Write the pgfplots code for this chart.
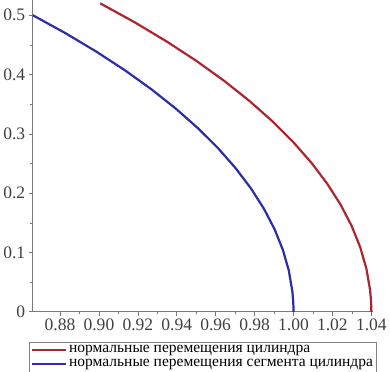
\documentclass[border=0pt]{standalone}
\usepackage{pgfplots}
\pgfplotsset{compat=1.18}
\usepackage{fontspec}
\setmainfont{Liberation Serif}
\definecolor{cred}{RGB}{172,38,48}
\definecolor{cblue}{RGB}{45,45,170}
\definecolor{axgray}{RGB}{120,120,120}
\begin{document}
\begin{tikzpicture}
\begin{axis}[
  scale only axis,
  width=339bp, height=310bp,
  xmin=0.866, xmax=1.041,
  ymin=0, ymax=0.525,
  axis x line=bottom, axis y line=left,
  axis line style={-, axgray, line width=0.8pt},
  tick align=outside,
  tick style={axgray, line width=0.6pt},
  major tick length=4bp, minor tick length=2.5bp,
  xtick={0.88,0.90,...,1.04},
  ytick={0,0.1,0.2,0.3,0.4,0.5},
  minor x tick num=1, minor y tick num=1,
  /pgf/number format/assume math mode=true,
  xticklabel style={/pgf/number format/.cd, fixed, fixed zerofill, precision=2},
  yticklabel style={/pgf/number format/.cd, fixed, precision=1},
  ticklabel style={font=\rmfamily\fontsize{17.5}{19}\selectfont, text=black!75},
  legend style={at={(0,0)}, anchor=north west, xshift=-4bp, yshift=-30bp,
    draw=black!50, font=\rmfamily\fontsize{15.5}{16}\selectfont, inner sep=1.5pt,
    row sep=1bp, cells={anchor=west}},
  legend cell align=left,
  legend image code/.code={\draw[#1, line width=2.5pt] (0bp,0bp) -- (34bp,0bp);},
  clip=false,
]
\addplot[cred, line width=2.2pt] coordinates {
(1.04000,0) (1.03996,0.00908) (1.03984,0.01815) (1.03937,0.03630) (1.03746,0.07255)
(1.03430,0.10871) (1.02988,0.14474) (1.02420,0.18060) (1.01728,0.21623)
(1.00911,0.25160) (0.99971,0.28667) (0.98910,0.32138) (0.97728,0.35570)
(0.96427,0.38959) (0.95009,0.42301) (0.93474,0.45590) (0.91827,0.48825) (0.90067,0.52000)
};
\addlegendentry{нормальные перемещения цилиндра}
\addplot[cblue, line width=2.2pt] coordinates {
(1.00000,0) (0.99996,0.00873) (0.99985,0.01745) (0.99939,0.03490) (0.99756,0.06976)
(0.99452,0.10453) (0.99027,0.13917) (0.98481,0.17365) (0.97815,0.20791)
(0.97030,0.24192) (0.96126,0.27564) (0.95106,0.30902) (0.93969,0.34202)
(0.92718,0.37461) (0.91355,0.40674) (0.89879,0.43837) (0.88295,0.46947) (0.86603,0.50000)
};
\addlegendentry{нормальные перемещения сегмента цилиндра}
\end{axis}
\end{tikzpicture}
\end{document}
